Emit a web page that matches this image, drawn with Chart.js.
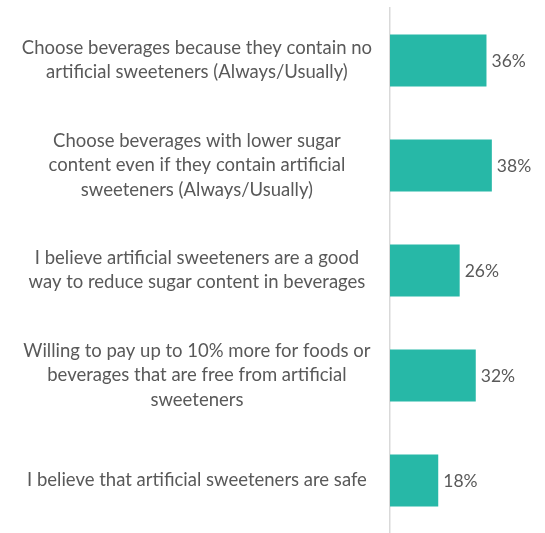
<!DOCTYPE html>
<html>
<head>
<meta charset="utf-8">
<script src="https://cdn.jsdelivr.net/npm/chart.js@4.4.1/dist/chart.umd.min.js"></script>
<style>
  html, body { margin: 0; padding: 0; background: #fff; }
  #wrap { position: relative; width: 545px; height: 533px; }
</style>
</head>
<body>
<div id="wrap"><canvas id="chart"></canvas></div>
<script>
// Adatok
const categories = [
    ['Choose beverages because they contain no', 'artificial sweeteners (Always/Usually)'],
    ['Choose beverages with lower sugar', 'content even if they contain artificial', 'sweeteners (Always/Usually)'],
    ['I believe artificial sweeteners are a good', 'way to reduce sugar content in beverages'],
    ['Willing to pay up to 10% more for foods or', 'beverages that are free from artificial', 'sweeteners'],
    ['I believe that artificial sweeteners are safe']
];
const values = [36, 38, 26, 32, 18];

const textColor = '#595959';
const labelFont = { family: 'Lato', size: 18.5, lineHeight: 1.3 };
const valueFont = { family: 'Lato', size: 17.5 };

// Százalék feliratok a sávok végén
const valueLabels = {
    id: 'valueLabels',
    afterDatasetsDraw(chart) {
        const ctx = chart.ctx;
        const meta = chart.getDatasetMeta(0);
        ctx.save();
        ctx.font = `${valueFont.size}px ${valueFont.family}`;
        ctx.fillStyle = textColor;
        ctx.textAlign = 'left';
        ctx.textBaseline = 'middle';
        meta.data.forEach((bar, i) => {
            ctx.fillText(values[i] + '%', bar.x + 5, bar.y + 1);
        });
        ctx.restore();
    }
};

new Chart(document.getElementById('chart').getContext('2d'), {
    type: 'bar',
    data: {
        labels: categories,
        datasets: [{
            data: values,
            backgroundColor: '#27b8a7',
            borderWidth: 0,
            barPercentage: 0.495,
            categoryPercentage: 1
        }]
    },
    options: {
        indexAxis: 'y',
        responsive: true,
        maintainAspectRatio: false,
        animation: false,
        layout: { padding: { top: 8, right: 21, bottom: 0, left: 0 } },
        plugins: {
            legend: { display: false },
            tooltip: { enabled: false }
        },
        scales: {
            x: {
                display: false,
                min: 0,
                max: 50
            },
            y: {
                afterFit(scale) {
                    // fix szélesség, és ne legyen automatikus felső/alsó margó
                    scale.width = 390;
                    scale.paddingTop = 0;
                    scale.paddingBottom = 0;
                },
                grid: { display: false, drawTicks: false },
                border: { display: true, color: '#d9d9d9', width: 1.5 },
                ticks: {
                    color: textColor,
                    font: labelFont,
                    crossAlign: 'center',
                    padding: 18
                }
            }
        }
    },
    plugins: [valueLabels]
});
</script>
</body>
</html>
